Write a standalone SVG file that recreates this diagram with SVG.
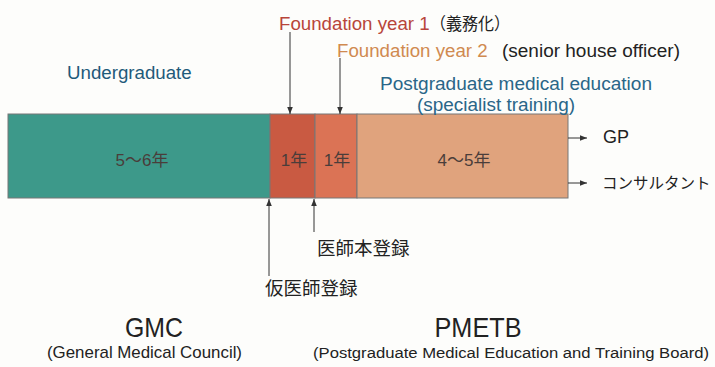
<svg xmlns="http://www.w3.org/2000/svg" width="715" height="367" viewBox="0 0 715 367">
<defs>
<marker id="ah" viewBox="0 0 10 10" refX="10" refY="5" markerWidth="7" markerHeight="7" markerUnits="userSpaceOnUse" orient="auto"><path d="M0,1 L10,5 L0,9 z" fill="#333"/></marker>
</defs>
<style>
text{font-family:"Liberation Sans","Noto Sans CJK JP",sans-serif}
.seg{stroke:#777;stroke-width:1}
.lbl{font-size:17px;fill:#4a3d3a;text-anchor:middle}
.conn{stroke:#333;stroke-width:1;fill:none;marker-end:url(#ah)}
.jp{font-size:18.5px;fill:#222}
.hd{font-size:18.7px}
</style>
<rect width="715" height="367" fill="#fdfdfb"/>
<g id="undergrad">
<rect class="seg" x="8" y="114" width="262" height="84" fill="#3d998a"/>
<text class="lbl" x="142" y="166">5～6年</text>
</g>
<g id="fy1">
<rect class="seg" x="270" y="114" width="45" height="84" fill="#c95a42"/>
<text class="lbl" x="294" y="166">1年</text>
</g>
<g id="fy2">
<rect class="seg" x="315" y="114" width="42" height="84" fill="#db7355"/>
<text class="lbl" x="337" y="166">1年</text>
</g>
<g id="postgrad">
<rect class="seg" x="357" y="114" width="211" height="84" fill="#e0a37d"/>
<text class="lbl" x="464" y="166">4～5年</text>
</g>
<g id="label-undergrad"><text class="hd" x="67" y="79" fill="#1f5a7a">Undergraduate</text></g>
<g id="label-fy1"><text class="hd" x="279" y="30" fill="#b8453a">Foundation year 1</text><text x="430" y="30" font-size="17" fill="#222" textLength="80" lengthAdjust="spacingAndGlyphs">（義務化）</text></g>
<g id="label-fy2"><text class="hd" x="337" y="57" fill="#d08a50">Foundation year 2</text><text class="hd" x="502" y="57" fill="#222" textLength="178" lengthAdjust="spacingAndGlyphs">(senior house officer)</text></g>
<g id="label-postgrad"><text class="hd" x="380" y="90" fill="#2a6688" textLength="272" lengthAdjust="spacingAndGlyphs">Postgraduate medical education</text><text class="hd" x="417" y="111" fill="#2a6688" textLength="158" lengthAdjust="spacingAndGlyphs">(specialist training)</text></g>
<g id="gp"><text x="603" y="143" font-size="18" fill="#222">GP</text></g>
<g id="consultant"><text x="602" y="189" font-size="15.5" fill="#222">コンサルタント</text></g>
<g id="reg-full"><text class="jp" x="317" y="255">医師本登録</text></g>
<g id="reg-prov"><text class="jp" x="265" y="295">仮医師登録</text></g>
<g id="gmc"><text x="154" y="337" font-size="28" fill="#222" text-anchor="middle" textLength="58" lengthAdjust="spacingAndGlyphs">GMC</text><text x="144.5" y="358" font-size="17" fill="#222" text-anchor="middle" textLength="195" lengthAdjust="spacingAndGlyphs">(General Medical Council)</text></g>
<g id="pmetb"><text x="478" y="337" font-size="28" fill="#222" text-anchor="middle" textLength="87" lengthAdjust="spacingAndGlyphs">PMETB</text><text x="511" y="358" font-size="15.5" fill="#222" text-anchor="middle" textLength="396" lengthAdjust="spacingAndGlyphs">(Postgraduate Medical Education and Training Board)</text></g>
<g id="connectors">
<line class="conn" x1="290" y1="32" x2="290" y2="114"/>
<line class="conn" x1="340" y1="58" x2="340" y2="114"/>
<line class="conn" x1="269" y1="276" x2="269" y2="199"/>
<line class="conn" x1="314" y1="232" x2="314" y2="199"/>
<line class="conn" x1="568" y1="138" x2="587" y2="138"/>
<line class="conn" x1="568" y1="183" x2="587" y2="183"/>
</g>
</svg>
